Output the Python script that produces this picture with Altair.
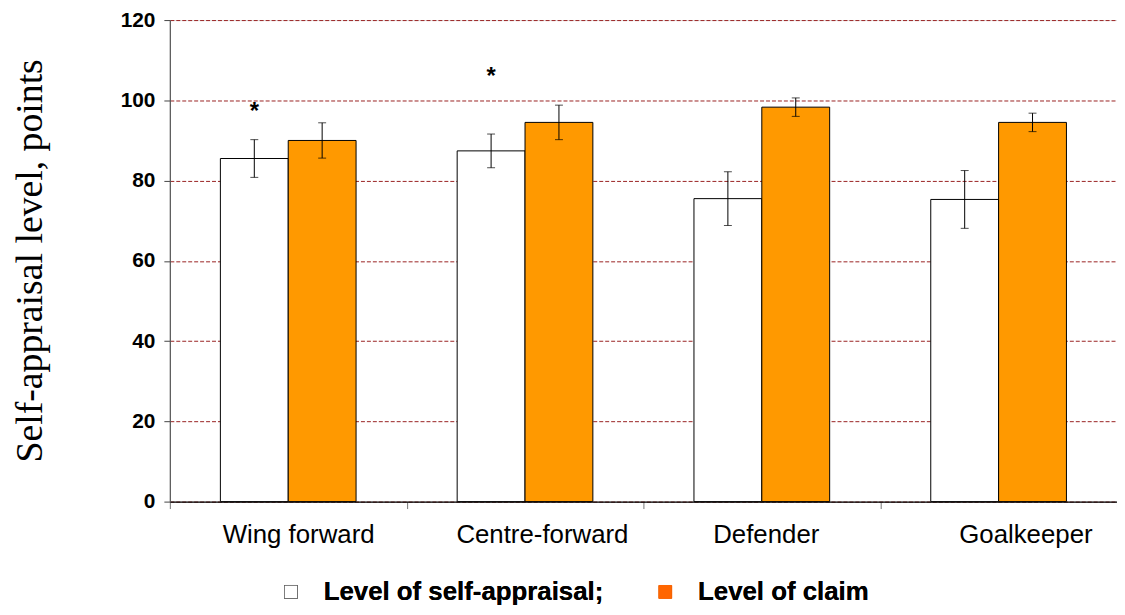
import altair as alt
import pandas as pd

positions = ["Wing forward", "Centre-forward", "Defender", "Goalkeeper"]
series_names = ["Level of self-appraisal;", "Level of claim"]
self_vals = [85.5, 87.4, 75.5, 75.3]
self_err = [4.7, 4.2, 6.7, 7.2]
claim_vals = [90.0, 94.5, 98.3, 94.5]
claim_err = [4.4, 4.3, 2.3, 2.3]
star_positions = ["Wing forward", "Centre-forward"]
star_levels = [97.2, 105.9]

rows = []
for i, p in enumerate(positions):
    rows.append({"position": p, "series": series_names[0], "value": self_vals[i],
                 "lo": self_vals[i] - self_err[i], "hi": self_vals[i] + self_err[i]})
    rows.append({"position": p, "series": series_names[1], "value": claim_vals[i],
                 "lo": claim_vals[i] - claim_err[i], "hi": claim_vals[i] + claim_err[i]})
df = pd.DataFrame(rows)
stars = pd.DataFrame({"position": star_positions, "series": series_names[0],
                      "value": star_levels, "label": "*"})

x_axis = alt.Axis(
    labelAngle=0, labelFont="Liberation Sans", labelFontSize=26, labelColor="black",
    labelPadding=13, tickSize=7, tickColor="#777777", tickBand="extent", ticks=True,
    domainColor="black", domainWidth=1.2, grid=False,
    labelOffset={"condition": [
        {"test": "datum.label == 'Wing forward'", "value": 10},
        {"test": "datum.label == 'Centre-forward'", "value": 17},
        {"test": "datum.label == 'Goalkeeper'", "value": 27}],
        "value": 4},
)
x_scale = alt.Scale(paddingInner=0, paddingOuter=0)
x_enc = alt.X("position:N", sort=positions, title=None, scale=x_scale, axis=x_axis)
xo_enc = alt.XOffset("series:N", sort=series_names,
                     scale=alt.Scale(paddingInner=0, paddingOuter=0.745))
y_scale = alt.Scale(domain=[0, 120], nice=False)
y_axis = alt.Axis(
    values=[0, 20, 40, 60, 80, 100, 120], title="Self-appraisal level, points",
    labelFont="Liberation Sans", labelFontSize=21, labelFontWeight="bold",
    labelColor="black", labelPadding=9, tickSize=6, tickColor="#444444",
    domainColor="#555555", domainWidth=1.2,
    grid=True, gridColor="#992222", gridDash=[4, 2], gridWidth=1,
    titleFont="Liberation Serif", titleFontSize=38, titleFontWeight="normal",
    titleColor="black", titleAngle=-90, titleX=-129, titleY=242,
    titleAlign="center", titleBaseline="alphabetic",
)


def yq(field):
    return alt.Y(field, scale=y_scale, axis=y_axis)


bars = alt.Chart(df).mark_bar(stroke="black", strokeWidth=1).encode(
    x=x_enc, xOffset=xo_enc, y=yq("value:Q"),
    fill=alt.Fill("series:N", sort=series_names, legend=None,
                  scale=alt.Scale(domain=series_names, range=["#FFFFFF", "#FF9900"])),
)

leg = alt.Legend(
    title=None, orient="none", legendX=109, legendY=563, direction="horizontal",
    columns=2, symbolType="square", symbolSize=169, symbolStrokeWidth=1,
    symbolOpacity=1, labelFont="Liberation Sans", labelFontSize=26,
    labelFontWeight="bold", labelColor="black", labelOffset=20, columnPadding=49,
    labelLimit=400, padding=0,
)
legend_layer = alt.Chart(df).mark_square(opacity=0, size=1).encode(
    x=x_enc, xOffset=xo_enc, y=yq("value:Q"),
    fill=alt.Fill("series:N", sort=series_names, legend=leg,
                  scale=alt.Scale(domain=series_names, range=["#FFFFFF", "#FF6600"])),
    stroke=alt.Stroke("series:N", sort=series_names, legend=leg,
                      scale=alt.Scale(domain=series_names, range=["#000000", "#FF6600"])),
)

err_rule = alt.Chart(df).mark_rule(color="black", strokeWidth=1).encode(
    x=x_enc, xOffset=xo_enc, y=yq("lo:Q"), y2="hi:Q",
)
cap_lo = alt.Chart(df).mark_tick(color="black", thickness=1, size=8, orient="horizontal").encode(
    x=x_enc, xOffset=xo_enc, y=yq("lo:Q"),
)
cap_hi = alt.Chart(df).mark_tick(color="black", thickness=1, size=8, orient="horizontal").encode(
    x=x_enc, xOffset=xo_enc, y=yq("hi:Q"),
)
star_text = alt.Chart(stars).mark_text(
    font="Liberation Sans", fontSize=24, fontWeight="bold", color="black", baseline="middle"
).encode(
    x=x_enc, xOffset=xo_enc, y=yq("value:Q"), text="label:N",
)

chart = alt.layer(bars, legend_layer, err_rule, cap_lo, cap_hi, star_text).resolve_scale(
    fill="independent"
).properties(
    width=954, height=485,
    autosize=alt.AutoSizeParams(type="none"),
    padding={"left": 163, "top": 10, "right": 0, "bottom": 104},
).configure_view(stroke=None).configure(background="white")

chart.save("out.html", embed_options={"renderer": "svg", "actions": False})
